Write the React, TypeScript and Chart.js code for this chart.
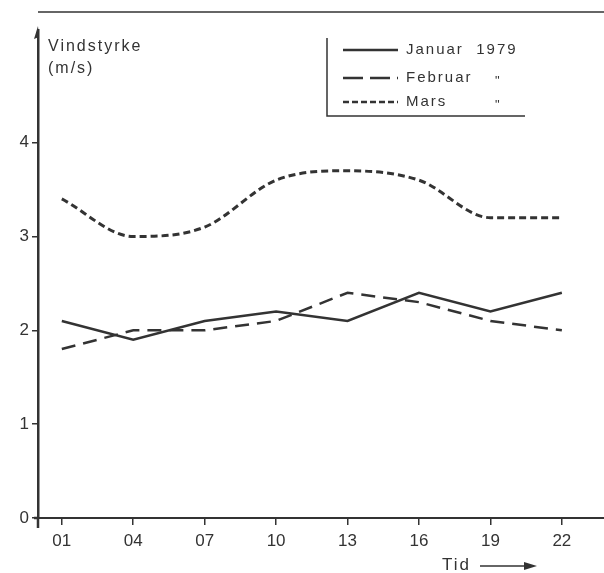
import React, { useEffect, useRef } from "react";
import { Chart, registerables } from "chart.js";

Chart.register(...registerables);

const hours = ["01", "04", "07", "10", "13", "16", "19", "22"];
const januar = [2.1, 1.9, 2.1, 2.2, 2.1, 2.4, 2.2, 2.4];
const februar = [1.8, 2.0, 2.0, 2.1, 2.4, 2.3, 2.1, 2.0];
const mars = [3.4, 3.0, 3.1, 3.6, 3.7, 3.6, 3.2, 3.2];
const yTicks = [0, 1, 2, 3, 4];
const seriesNames = ["Januar  1979", "Februar", "Mars"];
const dittoMarks = ["", "\"", "\""];
const yTitle = ["Vindstyrke", "(m/s)"];
const xTitle = "Tid";

const INK = "#333333";
const FONT = "'Liberation Sans', Arial, sans-serif";

const toPoints = (vals: number[]) => vals.map((v, i) => ({ x: parseInt(hours[i], 10), y: v }));

const decorations = {
  id: "decorations",
  afterDraw(chart: any) {
    const { ctx, chartArea } = chart;
    const { left, top, bottom } = chartArea;
    ctx.save();
    ctx.strokeStyle = INK;
    ctx.fillStyle = INK;
    // frame line at top
    ctx.lineWidth = 1.5;
    ctx.beginPath();
    ctx.moveTo(left, 12);
    ctx.lineTo(chart.width, 12);
    ctx.stroke();
    // axis extensions
    ctx.lineWidth = 2.5;
    ctx.beginPath();
    ctx.moveTo(left, bottom);
    ctx.lineTo(left, bottom + 10);
    ctx.moveTo(left - 4, bottom);
    ctx.lineTo(left, bottom);
    ctx.stroke();
    // arrow on y axis
    ctx.beginPath();
    ctx.moveTo(left, top - 4);
    ctx.lineTo(left - 4, top + 9);
    ctx.lineTo(left + 1, top + 7);
    ctx.closePath();
    ctx.fill();
    // y title
    ctx.font = `16px ${FONT}`;
    (ctx as any).letterSpacing = "2px";
    ctx.textAlign = "left";
    ctx.textBaseline = "middle";
    ctx.fillText(yTitle[0], 48, 47);
    ctx.fillText(yTitle[1], 48, 69);
    // x title with arrow
    ctx.font = `17px ${FONT}`;
    (ctx as any).letterSpacing = "2px";
    ctx.fillText(xTitle, 442, 565);
    ctx.lineWidth = 1.5;
    ctx.beginPath();
    ctx.moveTo(480, 566);
    ctx.lineTo(528, 566);
    ctx.stroke();
    ctx.beginPath();
    ctx.moveTo(537, 566);
    ctx.lineTo(524, 562);
    ctx.lineTo(524, 570);
    ctx.closePath();
    ctx.fill();
    // legend box (left + bottom border)
    ctx.lineWidth = 1.5;
    ctx.beginPath();
    ctx.moveTo(327, 38);
    ctx.lineTo(327, 116);
    ctx.lineTo(525, 116);
    ctx.stroke();
    const rows = [50, 78, 102];
    const legendDash = [[], [20, 7], [6, 3]];
    chart.data.datasets.forEach((ds: any, i: number) => {
      ctx.lineWidth = 2.5;
      ctx.setLineDash(legendDash[i]);
      ctx.beginPath();
      ctx.moveTo(343, rows[i]);
      ctx.lineTo(398, rows[i]);
      ctx.stroke();
      ctx.setLineDash([]);
      ctx.font = `15px ${FONT}`;
      (ctx as any).letterSpacing = "2px";
      ctx.fillText(seriesNames[i], 406, rows[i]);
      if (dittoMarks[i]) {
        ctx.font = `13px ${FONT}`;
        (ctx as any).letterSpacing = "0px";
        ctx.fillText(dittoMarks[i], 495, rows[i] + 3);
      }
    });
    ctx.restore();
  },
};

export default function App() {
  const ref = useRef<HTMLCanvasElement>(null);
  useEffect(() => {
    if (!ref.current) return;
    const chart = new Chart(ref.current, {
      type: "line",
      data: {
        datasets: [
          {
            label: seriesNames[0],
            data: toPoints(januar),
            borderColor: INK,
            borderWidth: 2.5,
            pointRadius: 0,
            tension: 0,
          },
          {
            label: seriesNames[1],
            data: toPoints(februar),
            borderColor: INK,
            borderWidth: 2.5,
            borderDash: [14, 8],
            pointRadius: 0,
            tension: 0,
          },
          {
            label: seriesNames[2],
            data: toPoints(mars),
            borderColor: INK,
            borderWidth: 3,
            borderDash: [7, 4],
            pointRadius: 0,
            cubicInterpolationMode: "monotone",
          },
        ],
      },
      options: {
        animation: false,
        responsive: false,
        maintainAspectRatio: false,
        layout: { padding: { top: 30, right: 0, left: 0, bottom: 0 } },
        plugins: { legend: { display: false }, tooltip: { enabled: false } },
        scales: {
          x: {
            type: "linear",
            min: 0,
            max: 23.77,
            afterBuildTicks: (s: any) => {
              s.ticks = hours.map((h) => ({ value: parseInt(h, 10) }));
            },
            afterFit: (s: any) => {
              s.height = 55;
            },
            ticks: {
              callback: (v: any) => hours.find((h) => parseInt(h, 10) === v) ?? "",
              color: INK,
              font: { family: FONT, size: 17 },
              padding: 6,
              maxRotation: 0,
              autoSkip: false,
            },
            grid: {
              drawOnChartArea: false,
              drawTicks: true,
              tickLength: 7,
              color: INK,
              lineWidth: 1.5,
            },
            border: { display: true, color: INK, width: 2 },
          },
          y: {
            min: 0,
            max: 5.2,
            afterBuildTicks: (s: any) => {
              s.ticks = yTicks.map((v) => ({ value: v }));
            },
            afterFit: (s: any) => {
              s.width = 38;
            },
            ticks: {
              color: INK,
              font: { family: FONT, size: 17 },
              padding: 3,
            },
            grid: {
              drawOnChartArea: false,
              drawTicks: true,
              tickLength: 6,
              color: INK,
              lineWidth: 1.5,
            },
            border: { display: true, color: INK, width: 2.5 },
          },
        },
      },
      plugins: [decorations],
    } as any);
    return () => chart.destroy();
  }, []);
  return (
    <div style={{ position: "fixed", left: 0, top: 0, width: 604, height: 573, background: "#fff" }}>
      <canvas ref={ref} width={604} height={573} style={{ display: "block" }} />
    </div>
  );
}
